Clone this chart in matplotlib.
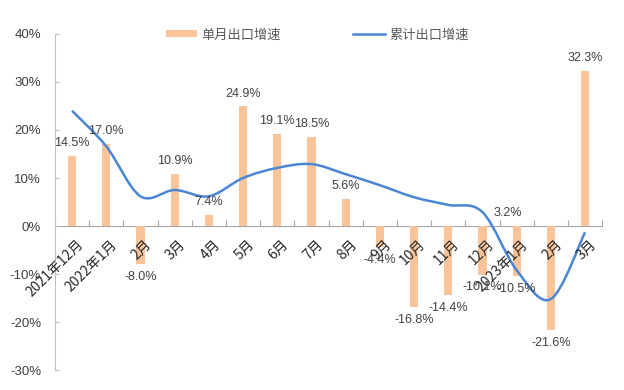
import matplotlib
matplotlib.use("Agg")
import matplotlib.pyplot as plt
from matplotlib.path import Path
from matplotlib.patches import PathPatch
from matplotlib.lines import Line2D
from matplotlib.patches import Patch
import numpy as np

plt.rcParams['font.family'] = ['Noto Sans CJK SC', 'DejaVu Sans']

categories = ['2021年12月', '2022年1月', '2月', '3月', '4月', '5月', '6月', '7月',
              '8月', '9月', '10月', '11月', '12月', '2023年1月', '2月', '3月']
monthly = [14.5, 17.0, -8.0, 10.9, 2.4, 24.9, 19.1, 18.5, 5.6, -4.4, -16.8,
           -14.4, -10.1, -10.5, -21.6, 32.3]
monthly_labels = ['14.5%', '17.0%', '-8.0%', '10.9%', '7.4%', '24.9%', '19.1%',
                  '18.5%', '5.6%', '-4.4%', '-16.8%', '-14.4%', '-10.1%',
                  '-10.5%', '-21.6%', '32.3%']
cumulative = [24.0, 16.6, 6.2, 7.5, 6.2, 10.0, 12.1, 12.9, 10.8, 8.5, 6.0,
              4.4, 2.9, -9.2, -15.2, -1.3]
stray_label = '3.2%'
yticks = [-30, -20, -10, 0, 10, 20, 30, 40]
legend_names = ['单月出口增速', '累计出口增速']

bar_color = '#F9C49A'
line_color = '#4A86D4'
text_color = '#404040'
num_font = ['Liberation Sans', 'DejaVu Sans']

fig = plt.figure(figsize=(6.24, 3.9), dpi=100)
ax = fig.add_axes([0.088, 0.051, 0.877, 0.862])

x = np.arange(len(categories))
ax.bar(x, monthly, width=0.24, color=bar_color, zorder=2)

# Excel-style smoothed line (Bezier through the data points)
pts = np.column_stack([x, cumulative]).astype(float)
n = len(pts)
verts = [tuple(pts[0])]
codes = [Path.MOVETO]
for i in range(n - 1):
    p0 = pts[i - 1] if i > 0 else pts[i]
    p1 = pts[i]
    p2 = pts[i + 1]
    p3 = pts[i + 2] if i + 2 < n else pts[i + 1]
    c1 = p1 + (p2 - p0) / 6.0
    c2 = p2 - (p3 - p1) / 6.0
    verts += [tuple(c1), tuple(c2), tuple(p2)]
    codes += [Path.CURVE4] * 3
ax.add_patch(PathPatch(Path(verts, codes), facecolor='none',
                       edgecolor=line_color, lw=1.8, zorder=3))

# data labels
for xi, v, lab in zip(x, monthly, monthly_labels):
    if v >= 0:
        ax.annotate(lab, (xi, v), xytext=(0, 5), textcoords='offset points',
                    ha='center', va='bottom', fontsize=9, color=text_color,
                    family=num_font, zorder=4)
    else:
        ax.annotate(lab, (xi, v), xytext=(0, -5), textcoords='offset points',
                    ha='center', va='top', fontsize=9, color=text_color,
                    family=num_font, zorder=4)
ax.annotate(stray_label, (13 - 0.25, 0), xytext=(0, 5), textcoords='offset points',
            ha='center', va='bottom', fontsize=9, color=text_color,
            family=num_font, zorder=4)

ax.set_xlim(-0.5, len(categories) - 0.5)
ax.set_ylim(-30, 40)
ax.set_yticks(yticks)
ax.set_yticklabels([f'{t}%' for t in yticks], fontsize=9.5, color='#404040',
                   family=num_font)
ax.tick_params(axis='y', direction='in', length=3, color='#BFBFBF', pad=10)

ax.spines['top'].set_visible(False)
ax.spines['right'].set_visible(False)
ax.spines['left'].set_color('#BFBFBF')
ax.spines['bottom'].set_position(('data', 0))
ax.spines['bottom'].set_color('#A6A6A6')
ax.spines['bottom'].set_zorder(1)

ax.set_xticks(np.arange(len(categories) + 1) - 0.5)
ax.set_xticklabels([])
ax.tick_params(axis='x', direction='in', length=4, color='#A6A6A6')
for xi, lab in zip(x, categories):
    ax.annotate(lab, (xi, 0), xytext=(3, -8), textcoords='offset points',
                ha='right', va='top', rotation=45, rotation_mode='anchor',
                fontsize=10, color='#262626', zorder=5)

handles = [Patch(facecolor=bar_color, edgecolor='none'),
           Line2D([0], [0], color=line_color, lw=1.8)]
leg = fig.legend(handles, legend_names, loc='center', ncol=2,
                 bbox_to_anchor=(0.508, 0.91), frameon=False, fontsize=9.5,
                 handlelength=2.4, handleheight=0.45, columnspacing=5.5,
                 handletextpad=0.3)
for t in leg.get_texts():
    t.set_color('#595959')

fig.savefig('out.png', dpi=100)
